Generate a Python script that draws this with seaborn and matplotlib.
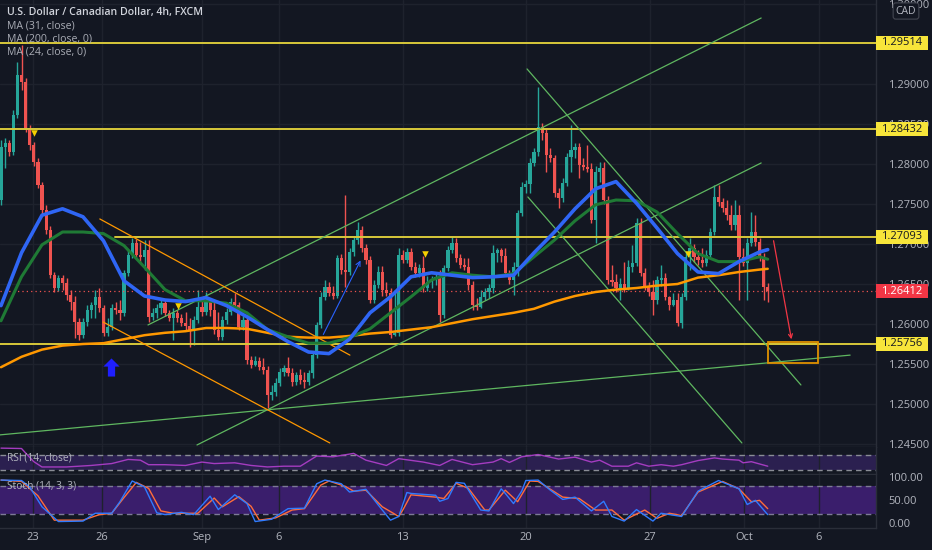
import numpy as np
import pandas as pd
import matplotlib
matplotlib.use("Agg")
import matplotlib.pyplot as plt
import matplotlib.transforms as mtransforms
from matplotlib.patches import Rectangle
import seaborn as sns

# ---------------- data ----------------
first_open = 1.2755
closes = [
    1.2821, 1.2826, 1.2815, 1.2861, 1.2911, 1.2903, 1.2845, 1.2824, 1.2803, 1.2774,
    1.2743, 1.2718, 1.2661, 1.2645, 1.2658, 1.2651, 1.2636, 1.2628, 1.2603, 1.2586,
    1.2603, 1.2618, 1.2624, 1.2634, 1.2620, 1.2589, 1.2596, 1.2620, 1.2618, 1.2614,
    1.2664, 1.2686, 1.2701, 1.2686, 1.2684, 1.2693, 1.2609, 1.2614, 1.2620, 1.2626,
    1.2614, 1.2608, 1.2614, 1.2608, 1.2601, 1.2598, 1.2593, 1.2605, 1.2621, 1.2615,
    1.2630, 1.2618, 1.2593, 1.2584, 1.2605, 1.2615, 1.2628, 1.2624, 1.2596, 1.2605,
    1.2555, 1.2549, 1.2554, 1.2546, 1.2543, 1.2511, 1.2515, 1.2526, 1.2540, 1.2545,
    1.2539, 1.2528, 1.2536, 1.2530, 1.2528, 1.2539, 1.2561, 1.2599, 1.2634, 1.2646,
    1.2639, 1.2635, 1.2683, 1.2668, 1.2665, 1.2690, 1.2705, 1.2718, 1.2695, 1.2680,
    1.2630, 1.2649, 1.2665, 1.2643, 1.2639, 1.2586, 1.2589, 1.2686, 1.2680, 1.2690,
    1.2671, 1.2664, 1.2670, 1.2645, 1.2653, 1.2655, 1.2659, 1.2611, 1.2670, 1.2693,
    1.2701, 1.2683, 1.2674, 1.2671, 1.2649, 1.2624, 1.2621, 1.2634, 1.2640, 1.2645,
    1.2689, 1.2693, 1.2685, 1.2664, 1.2655, 1.2671, 1.2739, 1.2771, 1.2775, 1.2801,
    1.2815, 1.2846, 1.2839, 1.2811, 1.2808, 1.2764, 1.2758, 1.2776, 1.2809, 1.2818,
    1.2821, 1.2799, 1.2796, 1.2794, 1.2730, 1.2790, 1.2795, 1.2755, 1.2655, 1.2653,
    1.2645, 1.2650, 1.2645, 1.2671, 1.2676, 1.2726, 1.2664, 1.2646, 1.2640, 1.2630,
    1.2655, 1.2658, 1.2634, 1.2624, 1.2630, 1.2601, 1.2634, 1.2684, 1.2695, 1.2684,
    1.2680, 1.2676, 1.2686, 1.2715, 1.2759, 1.2753, 1.2745, 1.2736, 1.2724, 1.2736,
    1.2684, 1.2676, 1.2701, 1.2715, 1.2703, 1.2684, 1.2646, 1.2641,
]
highs = [
    1.2830, 1.2833, 1.2830, 1.2868, 1.2928, 1.2949, 1.2908, 1.2849, 1.2828, 1.2808,
    1.2778, 1.2749, 1.2723, 1.2665, 1.2661, 1.2661, 1.2658, 1.2643, 1.2635, 1.2608,
    1.2608, 1.2624, 1.2628, 1.2643, 1.2645, 1.2624, 1.2608, 1.2625, 1.2628, 1.2630,
    1.2668, 1.2693, 1.2708, 1.2706, 1.2703, 1.2705, 1.2705, 1.2620, 1.2625, 1.2630,
    1.2630, 1.2618, 1.2620, 1.2618, 1.2613, 1.2615, 1.2608, 1.2610, 1.2643, 1.2633,
    1.2640, 1.2630, 1.2630, 1.2615, 1.2610, 1.2620, 1.2633, 1.2639, 1.2628, 1.2610,
    1.2610, 1.2560, 1.2560, 1.2559, 1.2558, 1.2548, 1.2524, 1.2533, 1.2545, 1.2549,
    1.2559, 1.2545, 1.2540, 1.2544, 1.2540, 1.2543, 1.2565, 1.2603, 1.2640, 1.2655,
    1.2653, 1.2648, 1.2686, 1.2688, 1.2761, 1.2695, 1.2710, 1.2728, 1.2723, 1.2700,
    1.2685, 1.2655, 1.2673, 1.2673, 1.2653, 1.2645, 1.2643, 1.2695, 1.2693, 1.2695,
    1.2695, 1.2678, 1.2675, 1.2685, 1.2660, 1.2660, 1.2663, 1.2668, 1.2674, 1.2698,
    1.2710, 1.2708, 1.2688, 1.2683, 1.2683, 1.2654, 1.2633, 1.2643, 1.2645, 1.2650,
    1.2699, 1.2695, 1.2695, 1.2695, 1.2668, 1.2678, 1.2743, 1.2778, 1.2780, 1.2808,
    1.2820, 1.2896, 1.2851, 1.2845, 1.2820, 1.2811, 1.2770, 1.2783, 1.2814, 1.2849,
    1.2826, 1.2826, 1.2808, 1.2824, 1.2801, 1.2798, 1.2803, 1.2803, 1.2760, 1.2674,
    1.2663, 1.2658, 1.2678, 1.2680, 1.2699, 1.2733, 1.2733, 1.2670, 1.2653, 1.2655,
    1.2660, 1.2674, 1.2664, 1.2635, 1.2639, 1.2639, 1.2639, 1.2690, 1.2708, 1.2700,
    1.2693, 1.2695, 1.2693, 1.2720, 1.2774, 1.2774, 1.2758, 1.2755, 1.2749, 1.2755,
    1.2749, 1.2695, 1.2708, 1.2740, 1.2736, 1.2708, 1.2689, 1.2651,
]
lows = [
    1.2749, 1.2795, 1.2810, 1.2811, 1.2858, 1.2893, 1.2840, 1.2818, 1.2798, 1.2770,
    1.2738, 1.2713, 1.2658, 1.2640, 1.2641, 1.2643, 1.2630, 1.2618, 1.2583, 1.2580,
    1.2583, 1.2598, 1.2608, 1.2608, 1.2615, 1.2585, 1.2585, 1.2593, 1.2613, 1.2605,
    1.2610, 1.2660, 1.2683, 1.2683, 1.2678, 1.2668, 1.2603, 1.2605, 1.2608, 1.2613,
    1.2610, 1.2604, 1.2580, 1.2603, 1.2598, 1.2593, 1.2571, 1.2574, 1.2601, 1.2610,
    1.2611, 1.2610, 1.2588, 1.2580, 1.2580, 1.2600, 1.2611, 1.2619, 1.2593, 1.2593,
    1.2550, 1.2545, 1.2548, 1.2543, 1.2538, 1.2495, 1.2505, 1.2510, 1.2523, 1.2535,
    1.2535, 1.2523, 1.2524, 1.2525, 1.2520, 1.2524, 1.2533, 1.2558, 1.2595, 1.2630,
    1.2635, 1.2631, 1.2633, 1.2663, 1.2646, 1.2661, 1.2685, 1.2700, 1.2690, 1.2675,
    1.2626, 1.2626, 1.2645, 1.2635, 1.2635, 1.2583, 1.2585, 1.2585, 1.2676, 1.2676,
    1.2668, 1.2659, 1.2659, 1.2640, 1.2641, 1.2645, 1.2649, 1.2603, 1.2608, 1.2666,
    1.2689, 1.2678, 1.2670, 1.2668, 1.2643, 1.2618, 1.2618, 1.2620, 1.2630, 1.2633,
    1.2639, 1.2678, 1.2678, 1.2660, 1.2650, 1.2636, 1.2660, 1.2735, 1.2764, 1.2764,
    1.2798, 1.2810, 1.2830, 1.2790, 1.2803, 1.2759, 1.2745, 1.2753, 1.2773, 1.2790,
    1.2808, 1.2783, 1.2793, 1.2790, 1.2726, 1.2701, 1.2778, 1.2750, 1.2650, 1.2648,
    1.2640, 1.2630, 1.2640, 1.2643, 1.2665, 1.2673, 1.2660, 1.2643, 1.2635, 1.2611,
    1.2625, 1.2648, 1.2630, 1.2618, 1.2623, 1.2598, 1.2595, 1.2630, 1.2668, 1.2678,
    1.2674, 1.2671, 1.2673, 1.2683, 1.2711, 1.2748, 1.2740, 1.2730, 1.2718, 1.2718,
    1.2630, 1.2673, 1.2630, 1.2698, 1.2698, 1.2679, 1.2630, 1.2628,
]

# moving averages sampled every 5 bars
ma_bars = list(range(0, 186, 5)) + [187]
ma31 = [1.2623, 1.2689, 1.2736, 1.2744, 1.2734, 1.2704, 1.2654, 1.2635, 1.2630, 1.2628,
        1.2633, 1.2623, 1.2609, 1.2593, 1.2578, 1.2565, 1.2563, 1.2581, 1.2614, 1.2634,
        1.2659, 1.2664, 1.2661, 1.2658, 1.2659, 1.2661, 1.2689, 1.2715, 1.2744, 1.2769,
        1.2778, 1.2751, 1.2720, 1.2688, 1.2665, 1.2663, 1.2678, 1.2690, 1.2693]
ma24 = [1.2604, 1.2659, 1.2699, 1.2715, 1.2715, 1.2713, 1.2698, 1.2671, 1.2643, 1.2629,
        1.2629, 1.2626, 1.2614, 1.2593, 1.2584, 1.2576, 1.2576, 1.2583, 1.2594, 1.2614,
        1.2634, 1.2655, 1.2664, 1.2661, 1.2659, 1.2663, 1.2684, 1.2705, 1.2729, 1.2749,
        1.2755, 1.2754, 1.2740, 1.2713, 1.2688, 1.2678, 1.2678, 1.2684, 1.2681]
ma200 = [1.2546, 1.2559, 1.2568, 1.2573, 1.2575, 1.2576, 1.2581, 1.2586, 1.2589, 1.2591,
         1.2595, 1.2595, 1.2594, 1.2589, 1.2584, 1.2583, 1.2583, 1.2585, 1.2588, 1.2590,
         1.2593, 1.2596, 1.2601, 1.2606, 1.2610, 1.2614, 1.2619, 1.2628, 1.2635, 1.2640,
         1.2643, 1.2645, 1.2648, 1.2650, 1.2658, 1.2661, 1.2665, 1.2668, 1.2669]

# RSI (14, close)
rsi_bars = [0, 5, 6, 8, 10, 16, 22, 27, 31, 34, 36, 40, 45, 49, 52, 57, 61, 65, 69, 73,
            77, 81, 86, 89, 94, 97, 103, 107, 110, 115, 120, 122, 124, 127, 131, 136, 140,
            144, 146, 149, 153, 155, 158, 161, 164, 166, 170, 174, 176, 180, 181, 183, 184, 187]
rsi_vals = [88, 87, 75, 52, 38, 38, 42, 47, 58, 56, 44, 44, 42, 51, 47, 49, 42, 38, 40, 40,
            67, 65, 74, 56, 42, 60, 51, 42, 58, 44, 51, 60, 50, 65, 71, 59, 64,
            51, 56, 40, 40, 49, 40, 44, 40, 44, 55, 62, 59, 56, 49, 52, 49, 40]

# Stoch (14, 3, 3)
k_bars = [0, 5, 7, 10, 14, 20, 23, 27, 29, 32, 35, 38, 40, 44, 47, 51, 53, 57, 60, 62,
          66, 70, 74, 77, 79, 83, 85, 89, 92, 95, 97, 99, 100, 106, 107, 109, 111, 113, 117,
          119, 122, 123, 125, 127, 128, 131, 134, 137, 140, 144, 147, 149, 152, 155, 159,
          161, 166, 170, 175, 180, 182, 184, 187]
k_vals = [93, 92, 78, 35, 3, 4, 21, 21, 46, 91, 78, 22, 18, 23, 18, 58, 29, 61, 42, 3,
          8, 31, 32, 85, 93, 85, 67, 73, 39, 6, 14, 66, 64, 60, 47, 53, 88, 86, 28,
          26, 74, 64, 42, 69, 92, 93, 71, 51, 56, 26, 47, 14, 4, 29, 4,
          21, 14, 69, 92, 74, 40, 49, 18]
d_bars = [0, 5, 9, 13, 20, 24, 27, 30, 33, 36, 39, 42, 48, 52, 54, 58, 61, 63, 67, 71,
          74, 78, 80, 84, 86, 89, 93, 97, 98, 100, 106, 108, 111, 114, 118, 119, 123, 126,
          129, 131, 137, 141, 145, 149, 152, 157, 160, 163, 166, 170, 176, 180, 183, 185, 187]
d_vals = [93, 90, 59, 6, 6, 18, 21, 55, 88, 75, 26, 21, 21, 54, 35, 57, 36, 6, 11, 28,
          31, 82, 91, 79, 69, 71, 35, 14, 28, 61, 56, 53, 86, 75, 28, 28, 71, 46,
          91, 90, 56, 53, 28, 28, 6, 28, 10, 21, 16, 67, 90, 74, 46, 49, 31]

# horizontal levels and last price
levels = [1.29514, 1.28432, 1.27093, 1.25756]
last_price = 1.26412

# drawings: ((bar, price), (bar, price))
green_lines = [((-0.24, 1.24614), (207.1, 1.25611)),
               ((47.8, 1.24488), (185.4, 1.28013)),
               ((35.85, 1.25988), (185.4, 1.29825)),
               ((128.3, 1.29188), (195.1, 1.25238)),
               ((128.5, 1.27588), (180.7, 1.24513))]
orange_lines = [((24.1, 1.27313), (85.1, 1.25611)),
                ((24.9, 1.26025), (80.2, 1.24513))]
blue_arrow = ((78.3, 1.25838), (88.0, 1.26825))
red_arrow = ((188.3, 1.27075), (192.9, 1.25775))
target_box = ((187.1, 1.25513), (199.3, 1.25775))
tri_bars = [8.0, 43.2, 103.4, 167.6]
tri_prices = [1.28388, 1.26225, 1.26875, 1.26875]
up_arrow = (26.8, 1.25463)

tick_bars = [7.8, 24.6, 49.0, 67.8, 98.0, 128.0, 158.3, 181.2, 199.5]
tick_labels = ['23', '26', 'Sep', '6', '13', '20', '27', 'Oct', '6']
price_ticks = [1.245, 1.250, 1.255, 1.260, 1.265, 1.270, 1.275, 1.280, 1.285, 1.290, 1.300]

legend_lines = ['U.S. Dollar / Canadian Dollar, 4h, FXCM', 'MA (31, close)',
                'MA (200, close, 0)', 'MA (24, close, 0)']

# ---------------- style ----------------
BG = '#131722'
GRID = '#1e222d'
TXT = '#b2b5be'
sns.set_theme(style='dark', rc={'axes.facecolor': BG, 'figure.facecolor': BG,
                                'axes.edgecolor': '#2a2e39', 'text.color': TXT,
                                'xtick.color': TXT, 'ytick.color': TXT,
                                'axes.labelcolor': TXT})
plt.rcParams['font.family'] = ['Open Sans', 'DejaVu Sans']

W, H = 932, 550
fig = plt.figure(figsize=(W / 100, H / 100), dpi=100, facecolor=BG)


def axes_px(x0, y0, x1, y1):
    a = fig.add_axes([x0 / W, 1 - y1 / H, (x1 - x0) / W, (y1 - y0) / H])
    a.set_facecolor(BG)
    for s in ['top', 'left']:
        a.spines[s].set_visible(False)
    for s in ['right', 'bottom']:
        a.spines[s].set_color('#2a2e39')
        a.spines[s].set_linewidth(1)
    return a


ax = axes_px(0, 0, 876, 447)
ax_rsi = axes_px(0, 447, 876, 474)
ax_st = axes_px(0, 475, 876, 528)

XL = (-0.244, 213.41)
for a in (ax, ax_rsi, ax_st):
    a.set_xlim(*XL)
    a.set_xticks(tick_bars)
    a.grid(axis='x', color=GRID, lw=1)
    a.tick_params(length=0)

# ---------------- main panel ----------------
c = np.array(closes)
o = np.concatenate([[first_open], c[:-1]])
h = np.maximum(np.array(highs), np.maximum(o, c))
l = np.minimum(np.array(lows), np.minimum(o, c))
idx = np.arange(len(c))
cols = np.where(c >= o, '#26a69a', '#ef5350')

ax.set_ylim(1.244625, 1.3005)
ax.set_yticks(price_ticks)
ax.set_yticklabels([f'{v:.5f}' for v in price_ticks])
ax.yaxis.tick_right()
ax.tick_params(axis='y', pad=9, labelsize=8, colors=TXT)
ax.grid(axis='y', color=GRID, lw=1)
ax.set_xticklabels([])

ax.vlines(idx, l, h, colors=cols, lw=1, zorder=3)
ax.bar(idx, np.maximum(np.abs(c - o), 0.00004), bottom=np.minimum(o, c), width=0.78,
       color=cols, lw=0, zorder=4)

ma_df = pd.DataFrame({'bar': ma_bars, 'ma31': ma31, 'ma24': ma24, 'ma200': ma200})
sns.lineplot(data=ma_df, x='bar', y='ma200', ax=ax, color='#ff9800', lw=1.8, zorder=6,
             legend=False, solid_joinstyle='round')
sns.lineplot(data=ma_df, x='bar', y='ma24', ax=ax, color='#1f7a35', lw=2.2, zorder=6,
             legend=False, solid_joinstyle='round')
sns.lineplot(data=ma_df, x='bar', y='ma31', ax=ax, color='#2f66f5', lw=2.6, zorder=7,
             legend=False, solid_joinstyle='round')
ax.set_xlabel('')
ax.set_ylabel('')

# levels
for v in levels:
    xmin = 115 / 876 if abs(v - 1.27093) < 1e-6 else 0
    ax.axhline(v, xmin=xmin, color='#d8c83a', lw=1.4, zorder=5)
ax.axhline(last_price, color='#ef5350', lw=0.9, ls=(0, (1, 2.5)), zorder=5)

# drawings
for (p0, p1) in green_lines:
    ax.plot([p0[0], p1[0]], [p0[1], p1[1]], color='#5fb760', lw=0.9, zorder=5)
for (p0, p1) in orange_lines:
    ax.plot([p0[0], p1[0]], [p0[1], p1[1]], color='#ff9800', lw=0.9, zorder=5)
ax.annotate('', xy=blue_arrow[1], xytext=blue_arrow[0],
            arrowprops=dict(arrowstyle='->', color='#2962ff', lw=0.8, mutation_scale=8), zorder=8)
ax.annotate('', xy=red_arrow[1], xytext=red_arrow[0],
            arrowprops=dict(arrowstyle='->', color='#f23645', lw=0.9, mutation_scale=7), zorder=8)
(bx0, by0), (bx1, by1) = target_box
ax.add_patch(Rectangle((bx0, by0), bx1 - bx0, by1 - by0, fill=False, ec='#e09100', lw=1.3, zorder=8))
ax.scatter(tri_bars, tri_prices, marker='v', s=22, color='#f5d000', zorder=9, lw=0)
arrow_marker = [(0, 1), (-0.9, 0.1), (-0.4, 0.1), (-0.4, -1), (0.4, -1), (0.4, 0.1), (0.9, 0.1), (0, 1)]
ax.scatter([up_arrow[0]], [up_arrow[1]], marker=arrow_marker, s=170, color='#1f1fff', zorder=9, lw=0)

# ---------------- RSI panel ----------------
ax_rsi.set_ylim(19.3, 91)
ax_rsi.set_yticks([])
ax_rsi.set_xticklabels([])
ax_rsi.axhspan(30, 70, color='#2b2050', lw=0, zorder=0)
for v in (70, 30):
    ax_rsi.axhline(v, color='#8a8d96', lw=1, ls=(0, (4, 3)), zorder=1)
rsi_df = pd.DataFrame({'bar': rsi_bars, 'rsi': rsi_vals})
sns.lineplot(data=rsi_df, x='bar', y='rsi', ax=ax_rsi, color='#a43cc0', lw=1, legend=False, zorder=3)
ax_rsi.set_xlabel('')
ax_rsi.set_ylabel('')

# ---------------- Stoch panel ----------------
ax_st.set_ylim(-11, 104)
ax_st.axhspan(20, 80, color='#3a1e6c', lw=0, zorder=0)
for v in (80, 20):
    ax_st.axhline(v, color='#7d7a96', lw=1, ls=(0, (4, 3)), zorder=1)
st_k = pd.DataFrame({'bar': k_bars, 'v': k_vals})
st_d = pd.DataFrame({'bar': d_bars, 'v': d_vals})
sns.lineplot(data=st_d, x='bar', y='v', ax=ax_st, color='#ff6d3a', lw=1, legend=False, zorder=3)
sns.lineplot(data=st_k, x='bar', y='v', ax=ax_st, color='#2f7bff', lw=1, legend=False, zorder=4)
ax_st.set_xlabel('')
ax_st.set_ylabel('')
ax_st.set_yticks([100, 50, 0])
ax_st.set_yticklabels(['100.00', '50.00', '0.00'])
ax_st.yaxis.tick_right()
ax_st.tick_params(axis='y', pad=9, labelsize=8, colors=TXT)
ax_st.set_xticklabels(tick_labels)
ax_st.tick_params(axis='x', pad=3, labelsize=8, colors=TXT)

# ---------------- price labels on the right ----------------
fig.canvas.draw()
ident = mtransforms.IdentityTransform()


def price_label(value, fc, tc):
    ypix = ax.transData.transform((0, value))[1]
    fig.add_artist(Rectangle((876, ypix - 7), 52, 14, transform=ident, fc=fc, ec='none', zorder=20))
    fig.text(902 / W, ypix / H, f'{value:.5f}', ha='center', va='center', fontsize=8,
             color=tc, zorder=21, fontweight='medium')


for v in levels:
    price_label(v, '#f7e53a', '#131722')
price_label(last_price, '#f23645', '#ffffff')

fig.text(906 / W, 1 - 11 / H, 'CAD', ha='center', va='center', fontsize=7.5, color=TXT, zorder=22,
         bbox=dict(boxstyle='round,pad=0.25', fc=BG, ec='#434651', lw=0.8))

# ---------------- legend texts ----------------
fig.text(7 / W, 1 - 13 / H, legend_lines[0], ha='left', va='center', fontsize=7.6,
         color='#d1d4dc', fontweight='semibold', zorder=22)
for i, s in enumerate(legend_lines[1:]):
    fig.text(7 / W, 1 - (26 + 13 * i) / H, s, ha='left', va='center', fontsize=7.6,
             color='#a9acb5', zorder=22)
fig.text(7 / W, 1 - 458 / H, 'RSI (14, close)', ha='left', va='center', fontsize=7.3, color=TXT, zorder=22)
fig.text(7 / W, 1 - 486 / H, 'Stoch (14, 3, 3)', ha='left', va='center', fontsize=7.3, color=TXT, zorder=22)

fig.savefig('out.png', dpi=100, facecolor=BG)
